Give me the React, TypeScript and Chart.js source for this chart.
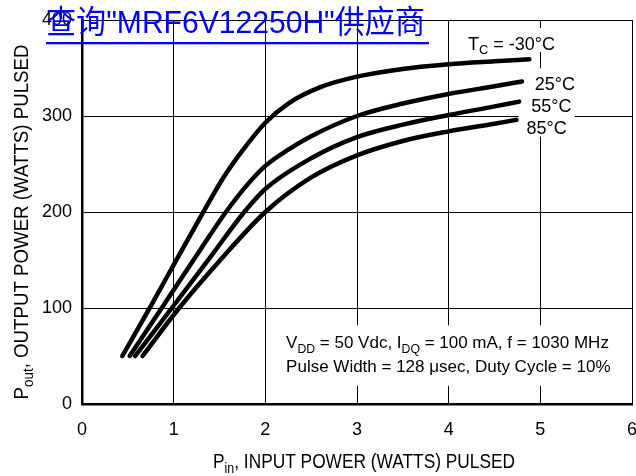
import React, { useEffect, useRef } from 'react';
import { Chart, registerables } from 'chart.js';

Chart.register(...registerables);

// ---- data ----
const xTicks = [0, 1, 2, 3, 4, 5, 6];
const yTicks = [0, 100, 200, 300, 400];

const pinM30 = [0.44, 0.75, 1.0, 1.3, 1.55, 1.75, 2.0, 2.25, 2.6, 3.0, 3.5, 4.0, 4.5, 4.88];
const poutM30 = [50, 102, 145, 196, 237, 264, 293, 313, 330, 341, 349, 354, 357, 359];
const pin25 = [0.52, 0.87, 1.3, 1.57, 1.8, 2.0, 2.25, 2.5, 3.0, 3.5, 4.0, 4.5, 4.8];
const pout25 = [50, 100, 162, 200, 228, 248, 265, 279, 300, 313, 323, 331, 336];
const pin55 = [0.58, 0.98, 1.4, 1.77, 2.0, 2.5, 3.0, 3.5, 4.0, 4.5, 4.77];
const pout55 = [50, 100, 153, 200, 224, 256, 278, 291, 301, 310, 315];
const pin85 = [0.66, 1.06, 1.5, 2.0, 2.5, 3.0, 3.5, 4.0, 4.5, 4.74];
const pout85 = [50, 100, 149, 200, 236, 259, 274, 284, 292, 296];

const seriesNames = ['TC = -30°C', '25°C', '55°C', '85°C'];
const seriesX = [pinM30, pin25, pin55, pin85];
const seriesY = [poutM30, pout25, pout55, pout85];

// temperature labels: anchor (left x, centre y) in data units
const tempLabelText = [
  [{ t: 'T' }, { t: 'C', sub: true }, { t: ' = -30°C' }],
  [{ t: '25°C' }],
  [{ t: '55°C' }],
  [{ t: '85°C' }],
];
const tempLabelX = [4.21, 4.94, 4.9, 4.85];
const tempLabelY = [376, 334, 311, 288];

const noteLine1 = [
  { t: 'V' }, { t: 'DD', sub: true }, { t: ' = 50 Vdc, I' }, { t: 'DQ', sub: true },
  { t: ' = 100 mA, f = 1030 MHz' },
];
const noteLine2 = [{ t: 'Pulse Width = 128 \u03bcsec, Duty Cycle = 10%' }];
const xTitle = [{ t: 'P' }, { t: 'in', sub: true }, { t: ', INPUT POWER (WATTS) PULSED' }];
const yTitle = [{ t: 'P' }, { t: 'out', sub: true }, { t: ', OUTPUT POWER (WATTS) PULSED' }];
const watermark = '查询"MRF6V12250H"供应商';

const FAMILY = "'Liberation Sans', Arial, Helvetica, sans-serif";

type Seg = { t: string; sub?: boolean };

function richWidth(ctx: CanvasRenderingContext2D, segs: Seg[], size: number) {
  let w = 0;
  for (const s of segs) {
    ctx.font = `${s.sub ? size * 0.72 : size}px ${FAMILY}`;
    w += ctx.measureText(s.t).width;
  }
  return w;
}

function drawRich(ctx: CanvasRenderingContext2D, segs: Seg[], x: number, y: number, size: number) {
  let cx = x;
  ctx.textBaseline = 'alphabetic';
  ctx.textAlign = 'left';
  for (const s of segs) {
    ctx.font = `${s.sub ? size * 0.72 : size}px ${FAMILY}`;
    ctx.fillText(s.t, cx, s.sub ? y + size * 0.27 : y);
    cx += ctx.measureText(s.t).width;
  }
  return cx - x;
}

const boxesPlugin = {
  id: 'boxes',
  beforeDatasetsDraw(chart: any) {
    const { ctx, scales } = chart;
    const xs = scales.x, ys = scales.y;
    ctx.save();
    tempLabelText.forEach((segs, i) => {
      const lx = xs.getPixelForValue(tempLabelX[i]);
      const cy = ys.getPixelForValue(tempLabelY[i]);
      const w = richWidth(ctx, segs as Seg[], 18);
      ctx.fillStyle = '#fff';
      ctx.fillRect(lx - 8, cy - 15, w + 16, 24);
    });
    const nx = xs.getPixelForValue(2.15);
    const ny1 = ys.getPixelForValue(82);
    const ny2 = ys.getPixelForValue(19);
    ctx.fillStyle = '#fff';
    ctx.fillRect(nx, ny1, xs.getPixelForValue(5.8) - nx, ny2 - ny1);
    ctx.restore();
  },
  afterDatasetsDraw(chart: any) {
    const { ctx, scales, chartArea } = chart;
    const xs = scales.x, ys = scales.y;
    ctx.save();
    ctx.fillStyle = '#000';
    tempLabelText.forEach((segs, i) => {
      const lx = xs.getPixelForValue(tempLabelX[i]);
      const cy = ys.getPixelForValue(tempLabelY[i]);
      drawRich(ctx, segs as Seg[], lx, cy + 6.5, 18);
    });
    const nx = xs.getPixelForValue(2.15) + 7;
    drawRich(ctx, noteLine1 as Seg[], nx, ys.getPixelForValue(58), 17);
    drawRich(ctx, noteLine2 as Seg[], nx, ys.getPixelForValue(33), 17);

    // x axis title (condensed)
    const xw = richWidth(ctx, xTitle as Seg[], 20);
    const xsx = 302 / xw;
    const xc = (chartArea.left + chartArea.right) / 2 + 7;
    ctx.save();
    ctx.translate(xc - 151, 468);
    ctx.scale(xsx, 1);
    drawRich(ctx, xTitle as Seg[], 0, 0, 20);
    ctx.restore();

    // y axis title (rotated)
    const yw = richWidth(ctx, yTitle as Seg[], 20);
    const ysx = 355 / yw;
    ctx.save();
    ctx.translate(28, 222 + 177.5);
    ctx.rotate(-Math.PI / 2);
    ctx.scale(ysx, 1);
    drawRich(ctx, yTitle as Seg[], 0, 0, 20);
    ctx.restore();
    ctx.restore();
  },
  afterDraw(chart: any) {
    const { ctx } = chart;
    ctx.save();
    ctx.fillStyle = 'rgb(0,0,255)';
    ctx.font = `32px 'Liberation Sans', 'Noto Sans CJK SC', sans-serif`;
    ctx.textBaseline = 'alphabetic';
    ctx.textAlign = 'left';
    const w = ctx.measureText(watermark).width;
    ctx.translate(46, 32.5);
    ctx.scale(379 / w, 1);
    ctx.fillText(watermark, 0, 0);
    ctx.restore();
    ctx.save();
    ctx.fillStyle = 'rgb(0,0,255)';
    ctx.fillRect(46, 42, 383, 2.3);
    ctx.restore();
  },
};

export default function App() {
  const ref = useRef<HTMLCanvasElement | null>(null);
  useEffect(() => {
    if (!ref.current) return;
    const datasets = seriesNames.map((name, i) => ({
      label: name,
      data: seriesX[i].map((x, j) => ({ x, y: seriesY[i][j] })),
      borderColor: '#000',
      backgroundColor: '#000',
      borderWidth: 4.5,
      pointRadius: 0,
      fill: false,
      cubicInterpolationMode: 'monotone' as const,
      borderCapStyle: 'round' as const,
      borderJoinStyle: 'round' as const,
    }));
    const tickFont = { family: FAMILY, size: 18 };
    const chart = new Chart(ref.current, {
      type: 'line',
      data: { datasets },
      options: {
        animation: false,
        responsive: false,
        devicePixelRatio: 1,
        layout: { padding: { top: 20, right: 4, left: 0, bottom: 0 } },
        plugins: { legend: { display: false }, tooltip: { enabled: false }, title: { display: false } },
        scales: {
          x: {
            type: 'linear',
            min: 0,
            max: 6,
            afterBuildTicks: (s: any) => { s.ticks = xTicks.map((v) => ({ value: v })); },
            grid: { color: '#000', lineWidth: 1, drawTicks: false },
            border: { color: '#000', width: 2.5 },
            ticks: { color: '#000', font: tickFont, padding: 15, autoSkip: false, maxRotation: 0 },
            afterFit: (s: any) => { s.height = 72; s.paddingLeft = 0; s.paddingRight = 0; },
          },
          y: {
            type: 'linear',
            min: 0,
            max: 400,
            afterBuildTicks: (s: any) => { s.ticks = yTicks.map((v) => ({ value: v })); },
            grid: { color: '#000', lineWidth: 1, drawTicks: false },
            border: { color: '#000', width: 2.5 },
            ticks: { color: '#000', font: tickFont, padding: 10, autoSkip: false },
            afterFit: (s: any) => { s.width = 82; s.paddingTop = 0; s.paddingBottom = 0; },
          },
        },
      },
      plugins: [boxesPlugin],
    } as any);
    return () => chart.destroy();
  }, []);
  return (
    <div style={{ position: 'fixed', left: 0, top: 0, width: 636, height: 476, background: '#fff' }}>
      <canvas ref={ref} width={636} height={476} style={{ display: 'block', width: 636, height: 476 }} />
    </div>
  );
}
